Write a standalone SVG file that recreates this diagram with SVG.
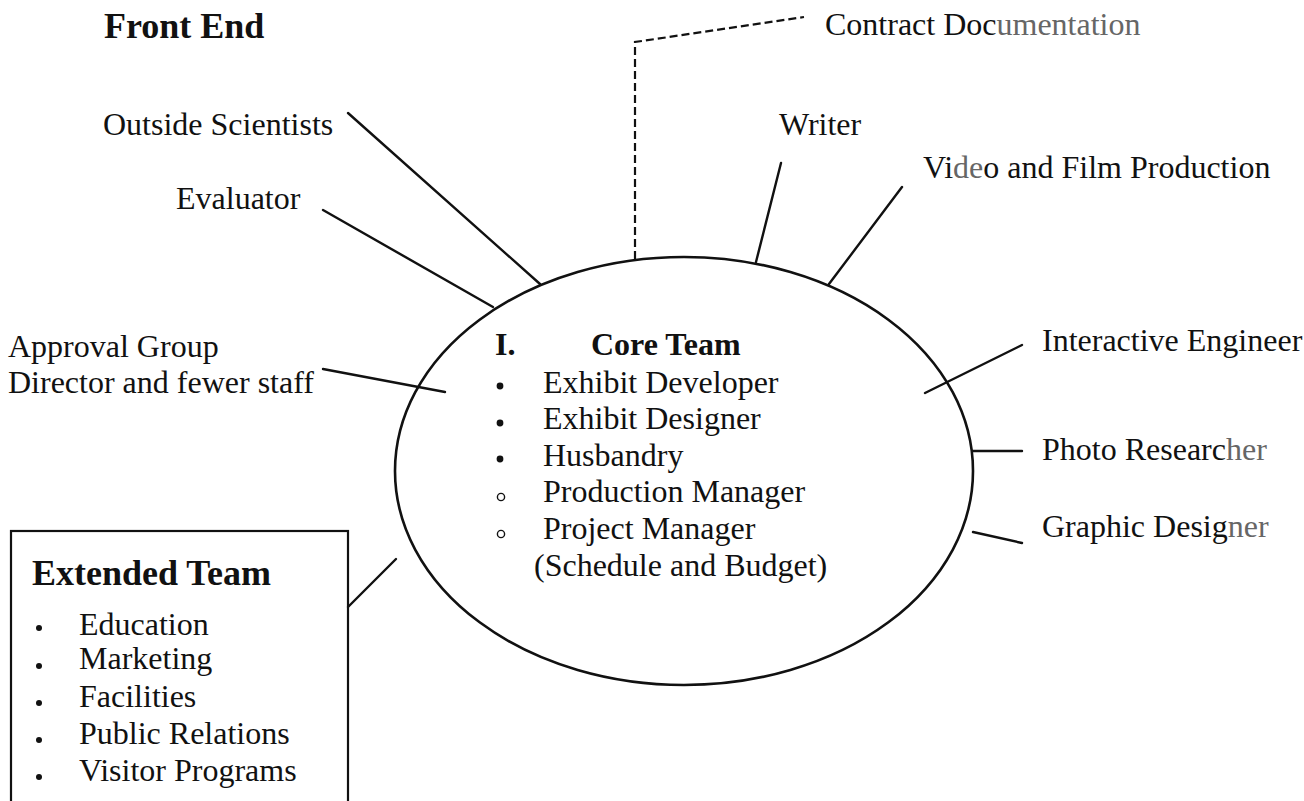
<svg xmlns="http://www.w3.org/2000/svg" width="1304" height="801" viewBox="0 0 1304 801">
  <style>
    text { font-family: "Liberation Serif", "Times New Roman", serif; fill: #111; }
    .lbl { font-size: 32px; }
    .head { font-size: 36px; font-weight: bold; }
    .sub { font-size: 32px; font-weight: bold; }
    .fade { fill: #666; }
    .link { stroke: #111; stroke-width: 2.4; fill: none; stroke-linecap: round; }
    .dash { stroke: #111; stroke-width: 2.2; fill: none; stroke-dasharray: 8 4; }
    .dot { fill: #111; }
    .ring { fill: none; stroke: #111; stroke-width: 1.4; }
  </style>
  <rect width="1304" height="801" fill="#ffffff"/>

  <!-- heading -->
  <g id="front-end">
    <text class="head" x="104" y="38">Front End</text>
  </g>

  <!-- connectors radiating from the core team -->
  <g id="connectors">
    <line class="link" x1="348" y1="113" x2="540" y2="284"/>
    <line class="link" x1="323" y1="210" x2="493" y2="307"/>
    <polyline class="dash" points="635,259 635,42 804,17"/>
    <line class="link" x1="781" y1="163" x2="756" y2="262"/>
    <line class="link" x1="902" y1="187" x2="829" y2="284"/>
    <line class="link" x1="1022" y1="345" x2="925" y2="393"/>
    <line class="link" x1="973" y1="451" x2="1022" y2="451"/>
    <line class="link" x1="973" y1="532" x2="1022" y2="543"/>
    <line class="link" x1="323" y1="369" x2="445" y2="392"/>
    <line class="link" x1="348" y1="607" x2="396" y2="559"/>
  </g>

  <!-- outer roles -->
  <g id="outside-scientists"><text class="lbl" x="103" y="135">Outside Scientists</text></g>
  <g id="evaluator"><text class="lbl" x="176" y="209">Evaluator</text></g>
  <g id="contract-documentation"><text class="lbl" x="825" y="35">Contract Doc<tspan class="fade">umentation</tspan></text></g>
  <g id="writer"><text class="lbl" x="779" y="135">Writer</text></g>
  <g id="video-film"><text class="lbl" x="923" y="178">Vi<tspan class="fade">de</tspan>o and Film Production</text></g>
  <g id="interactive-engineer"><text class="lbl" x="1042" y="351">Interactive Engineer</text></g>
  <g id="photo-researcher"><text class="lbl" x="1042" y="460">Photo Researc<tspan class="fade">her</tspan></text></g>
  <g id="graphic-designer"><text class="lbl" x="1042" y="537">Graphic Desig<tspan class="fade">ner</tspan></text></g>
  <g id="approval-group">
    <text class="lbl" x="8" y="357">Approval Group</text>
    <text class="lbl" x="8" y="393">Director and fewer staff</text>
  </g>

  <!-- core team -->
  <g id="core-team">
    <ellipse cx="684" cy="471" rx="289" ry="214" fill="none" stroke="#111" stroke-width="2.6"/>
    <text class="sub" x="495" y="355">I.</text>
    <text class="sub" x="591" y="355">Core Team</text>
    <circle class="dot" cx="500" cy="386" r="3.4"/>
    <circle class="dot" cx="500" cy="423" r="3.4"/>
    <circle class="dot" cx="500" cy="459" r="3.4"/>
    <circle class="ring" cx="501" cy="497" r="3.6"/>
    <circle class="ring" cx="501" cy="534" r="3.6"/>
    <text class="lbl" x="543" y="393">Exhibit Developer</text>
    <text class="lbl" x="543" y="429">Exhibit Designer</text>
    <text class="lbl" x="543" y="466">Husbandry</text>
    <text class="lbl" x="543" y="502">Production Manager</text>
    <text class="lbl" x="543" y="539">Project Manager</text>
    <text class="lbl" x="534" y="576">(Schedule and Budget)</text>
  </g>

  <!-- extended team -->
  <g id="extended-team">
    <rect x="11" y="531" width="337" height="290" fill="none" stroke="#111" stroke-width="2.2"/>
    <text class="head" x="32" y="585">Extended Team</text>
    <circle class="dot" cx="39" cy="628" r="3"/>
    <circle class="dot" cx="39" cy="666" r="3"/>
    <circle class="dot" cx="39" cy="703" r="3"/>
    <circle class="dot" cx="39" cy="740" r="3"/>
    <circle class="dot" cx="39" cy="777" r="3"/>
    <text class="lbl" x="79" y="635">Education</text>
    <text class="lbl" x="79" y="669">Marketing</text>
    <text class="lbl" x="79" y="707">Facilities</text>
    <text class="lbl" x="79" y="744">Public Relations</text>
    <text class="lbl" x="79" y="781">Visitor Programs</text>
  </g>
</svg>
